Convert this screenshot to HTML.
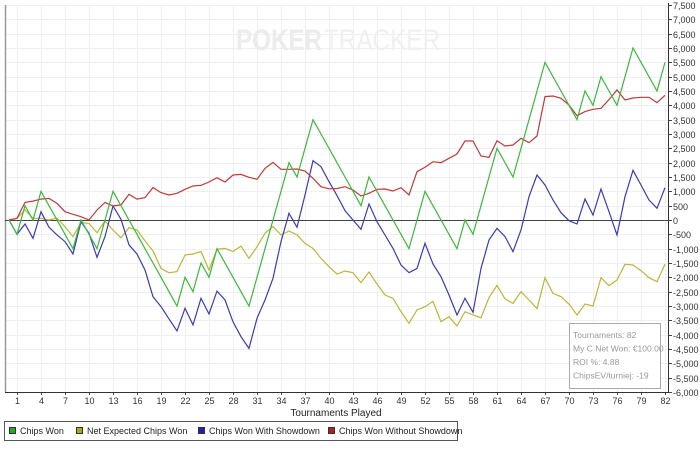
<!DOCTYPE html>
<html><head><meta charset="utf-8"><style>
html,body{margin:0;padding:0;background:#fff;}
body{width:700px;height:445px;overflow:hidden;font-family:"Liberation Sans",sans-serif;}
svg text{font-family:"Liberation Sans",sans-serif;}
</style></head><body>
<svg id="chart" width="700" height="445" viewBox="0 0 700 445" xmlns="http://www.w3.org/2000/svg">
<rect x="0" y="0" width="700" height="445" fill="#fff"/>
<g id="grid"></g>
<g>
<text x="236" y="50" font-size="30" font-weight="bold" fill="#ececec" textLength="86" lengthAdjust="spacingAndGlyphs">POKER</text>
<text x="324" y="50" font-size="30" fill="#f0f0f0" textLength="116" lengthAdjust="spacingAndGlyphs">TRACKER</text>
</g>
<g id="axes"></g>
<g id="series"></g>
<g>
<rect x="569.5" y="323.5" width="91" height="65" fill="#fff" stroke="#aaa" stroke-width="1"/>
<text x="573" y="338" font-size="8.5" fill="#999">Tournaments: 82</text>
<text x="573" y="351.5" font-size="8.5" fill="#999">My C Net Won: €100.00</text>
<text x="573" y="365" font-size="8.5" fill="#999">ROI %: 4.88</text>
<text x="573" y="378.5" font-size="8.5" fill="#999">ChipsEV/turniej: -19</text>
</g>
<text x="336" y="416" font-size="10" text-anchor="middle" fill="#222">Tournaments Played</text>
<g>
<rect x="4.5" y="421.5" width="453" height="19" fill="#fff" stroke="#555"/>
<g><rect x="9.5" y="427.5" width="6" height="6" fill="#22aa22" stroke="#333"/><text x="20" y="434" font-size="9" fill="#222">Chips Won</text></g>
<g><rect x="76.5" y="427.5" width="6" height="6" fill="#aaaa22" stroke="#333"/><text x="87" y="434" font-size="9" fill="#222">Net Expected Chips Won</text></g>
<g><rect x="198.5" y="427.5" width="6" height="6" fill="#2222aa" stroke="#333"/><text x="209" y="434" font-size="9" fill="#222">Chips Won With Showdown</text></g>
<g><rect x="328.5" y="427.5" width="6" height="6" fill="#aa2222" stroke="#333"/><text x="339" y="434" font-size="9" fill="#222">Chips Won Without Showdown</text></g>
</g>
</svg>
<script>
const chipsWon=[0,-500,500,0,1000,500,0,-500,-1000,0,-500,-1000,0,1000,500,0,-500,-1000,-1500,-2000,-2500,-3000,-2000,-2500,-1500,-2000,-1000,-1500,-2000,-2500,-3000,-2000,-1000,0,1000,2000,1500,2500,3500,3000,2500,2000,1500,1000,500,1500,1000,500,0,-500,-1000,0,1000,500,0,-500,-1000,0,-500,500,1500,2500,2000,1500,2500,3500,4500,5500,5000,4500,4000,3500,4500,4000,5000,4500,4000,5000,6000,5500,5000,4500,5500];
const netExpected=[0,60,350,60,60,0,60,-230,-580,-90,-120,-440,-35,-350,-620,-270,-350,-730,-1080,-1690,-1840,-1800,-1220,-1185,-1100,-1745,-1020,-990,-1100,-910,-1340,-930,-465,-230,-520,-385,-520,-815,-990,-1340,-1630,-1885,-1780,-1838,-2186,-1814,-2233,-2617,-2733,-3198,-3605,-3140,-3024,-2838,-3547,-3373,-3698,-3198,-3315,-3408,-2710,-2280,-2750,-2908,-2500,-2791,-3094,-2012,-2559,-2675,-2931,-3315,-2931,-3000,-2012,-2291,-2093,-1547,-1570,-1768,-2012,-2152,-1547];
const withShowdown=[0,-500,-140,-640,290,-255,-520,-755,-1185,-60,-465,-1300,-580,490,25,-870,-1185,-1745,-2675,-3020,-3450,-3870,-3080,-3660,-2730,-3280,-2480,-2790,-3550,-4070,-4480,-3430,-2790,-2035,-755,233,-255,872,2070,1860,1340,850,326,0,-326,558,-58,-523,-990,-1570,-1840,-1690,-814,-1535,-1977,-2617,-3315,-2733,-3220,-1690,-698,-290,-580,-1105,-349,814,1570,1221,698,256,-23,-140,733,174,1082,291,-523,814,1733,1221,698,407,1128];
const withoutShowdown=[0,60,615,660,730,755,580,290,200,115,0,350,615,490,525,895,730,780,1130,955,872,930,1070,1185,1210,1325,1475,1325,1570,1590,1490,1420,1800,2010,1770,1770,1780,1710,1455,1160,1090,1100,1163,1047,837,930,1070,1082,1012,1128,872,1686,1837,2035,2000,2152,2303,2756,2756,2233,2186,2768,2582,2617,2850,2698,2931,4303,4326,4245,4012,3640,3780,3861,3896,4200,4536,4187,4257,4280,4280,4094,4350];
const xTickLabels=[1,4,7,10,13,16,19,22,25,28,31,34,37,40,43,46,49,52,55,58,61,64,67,70,73,76,79,82];
const yTicks=[7500,7000,6500,6000,5500,5000,4500,4000,3500,3000,2500,2000,1500,1000,500,0,-500,-1000,-1500,-2000,-2500,-3000,-3500,-4000,-4500,-5000,-5500,-6000];

const NS="http://www.w3.org/2000/svg";
const L=5,R=668,T=5,B=392;
const X0=9,XS=(665-9)/82;
const yMax=7500,yMin=-6000;
function xs(j){return X0+XS*j;}
function ys(v){return T+(yMax-v)*(B-T)/(yMax-yMin);}
function mk(tag,attrs,parent){const e=document.createElementNS(NS,tag);for(const k in attrs)e.setAttribute(k,attrs[k]);parent.appendChild(e);return e;}
const grid=document.getElementById('grid'),axes=document.getElementById('axes'),ser=document.getElementById('series');
const fmt=v=>v.toLocaleString('en-US');
yTicks.forEach(v=>{
  const y=Math.round(ys(v))+0.5;
  const gl=mk('line',{x1:L,x2:R,y1:y,y2:y,stroke:'#efefef','stroke-width':1},grid);
  
  
  const tk=mk('line',{x1:R,x2:R+4,y1:y,y2:y,stroke:'#444','stroke-width':1},axes);
  
  
  const t=mk('text',{x:R+5,y:y+3.5,'font-size':9,fill:'#333'},axes);
  t.textContent=fmt(v);
  
  
});
xTickLabels.forEach(n=>{
  const x=Math.round(xs(n))+0.5;
  const gl=mk('line',{x1:x,x2:x,y1:T,y2:B,stroke:'#efefef','stroke-width':1},grid);
  
  
  const tk=mk('line',{x1:x,x2:x,y1:B,y2:B+3,stroke:'#444','stroke-width':1},axes);
  
  
  const t=mk('text',{x:x,y:B+12,'font-size':9,'text-anchor':'middle',fill:'#333'},axes);
  t.textContent=n;
  
  
});
const lb=mk('line',{x1:L+0.5,x2:L+0.5,y1:T,y2:B,stroke:'#999','stroke-width':1.5},axes);


const ya=mk('line',{x1:R+0.5,x2:R+0.5,y1:T-2,y2:B+1,stroke:'#333','stroke-width':1},axes);


const xa=mk('line',{x1:L,x2:R,y1:B+0.5,y2:B+0.5,stroke:'#333','stroke-width':1},axes);


const z=Math.round(ys(0))+0.5;
const zl=mk('line',{x1:L,x2:R,y1:z,y2:z,stroke:'#444','stroke-width':1},axes);


const seriesDefs=[[netExpected,'#b8b83a','line-net-expected-chips-won'],[withShowdown,'#3a3ac0','line-chips-won-with-showdown'],[withoutShowdown,'#c03a3a','line-chips-won-without-showdown'],[chipsWon,'#3cba3c','line-chips-won']];
seriesDefs.forEach(([d,c,name])=>{
  const pts=d.map((v,j)=>xs(j).toFixed(1)+','+ys(v).toFixed(1)).join(' ');
  const p=mk('polyline',{points:pts,fill:'none',stroke:c,'stroke-width':1.2,'stroke-linejoin':'miter'},ser);
  
  
});
</script>
</body></html>
